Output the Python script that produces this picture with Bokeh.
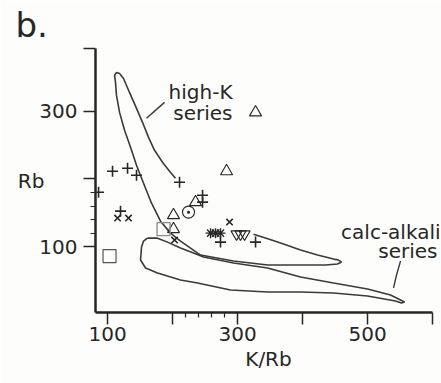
from bokeh.plotting import figure
from bokeh.models import Range1d, FixedTicker, Label
from bokeh.embed import file_html
from bokeh.resources import INLINE

# ---------------- data (K/Rb, Rb) ----------------
plus_x = [86.2, 107.7, 130.8, 144.6, 210.8, 246.2, 246.2, 273.8, 327.7, 120.0]
plus_y = [180.4, 211.4, 215.9, 205.5, 195.2, 176.0, 165.7, 106.6, 106.6, 152.4]

x_x = [115.4, 132.3, 203.1, 287.7]
x_y = [142.1, 142.1, 109.6, 136.2]

ast_x = [258.5, 266.2, 273.8]
ast_y = [119.9, 119.9, 119.9]

itri_x = [298.5, 304.6, 310.8]
itri_y = [118.4, 118.4, 118.4]

tri_x = [327.7, 283.1, 235.4, 201.5, 201.5]
tri_y = [298.5, 211.4, 165.7, 146.5, 125.8]

cdot_x = [224.6]
cdot_y = [150.9]

sq_x = [103.1]
sq_y = [86.0]
sq2_x = [186.2]
sq2_y = [125.8]

# high-K series envelope (open outline)
hk_x = [204.6, 195.4, 184.6, 172.3, 163.1, 153.8, 144.6, 133.8, 124.6, 118.5, 113.8, 110.8,
        112.3, 113.8, 118.5, 126.2, 135.4, 144.6, 155.4, 167.7, 181.5, 196.9, 212.3, 227.7,
        243.1, 293.8, 346.2, 396.9, 435.4, 453.8, 460.0, 455.4, 447.7, 423.1, 396.9, 370.8,
        347.7, 324.6]
hk_y = [201.1, 211.4, 224.7, 242.4, 261.6, 283.8, 304.4, 328.0, 348.7, 356.1, 357.6, 353.1,
        342.8, 323.6, 298.5, 272.0, 246.9, 220.3, 193.7, 164.2, 137.6, 119.9, 108.1, 97.8,
        87.5, 78.6, 72.7, 72.7, 72.7, 74.2, 77.1, 80.1, 81.5, 87.5, 94.8, 103.7,
        111.1, 118.4]

# calc-alkali series envelope (closed)
ca_x = [161.5, 176.9, 192.3, 212.3, 232.3, 247.7, 293.8, 346.2, 396.9, 447.7, 500.0, 535.4,
        550.8, 556.9, 552.3, 543.1, 500.0, 447.7, 396.9, 346.2, 289.2, 238.5, 212.3, 176.9,
        158.5, 150.8, 152.3, 155.4, 161.5]
ca_y = [112.5, 112.5, 106.6, 97.8, 90.4, 84.5, 75.6, 68.3, 55.0, 46.1, 37.3, 28.4,
        21.0, 18.1, 16.6, 19.6, 26.9, 31.4, 32.8, 32.8, 35.8, 46.1, 50.6, 60.9,
        68.3, 80.1, 99.3, 108.1, 112.5]

# label pointers
hk_ptr_x = [160.0, 187.7]
hk_ptr_y = [289.7, 313.3]
ca_ptr_x = [540.0, 544.6, 550.8]
ca_ptr_y = [38.8, 58.0, 78.7]

x_ticks = [100, 200, 300, 400, 500, 600]
x_minor = [220, 240, 260, 280]
x_tick_labels = {100: "100", 200: "", 300: "300", 400: "", 500: "500", 600: ""}
y_ticks = [100, 200, 300, 393]
y_minor = [120, 140, 160, 180]
y_tick_labels = {100: "100", 200: "", 300: "300", 393: ""}

# ---------------- figure ----------------
FONT = "DejaVu Sans"
INK = "#262626"
BG = "#fdfdfb"

p = figure(width=441, height=383, output_backend="svg", toolbar_location=None,
           x_range=Range1d(81.5, 613.8), y_range=Range1d(2.5, 393),
           min_border_left=95, min_border_right=0, min_border_top=48, min_border_bottom=71,
           background_fill_color=BG, border_fill_color=BG)
p.outline_line_color = None
p.grid.visible = False

p.title.text = "b."
p.title.text_font = FONT
p.title.text_font_size = "34px"
p.title.text_font_style = "normal"
p.title.text_color = INK
p.title.align = "left"
p.title.vertical_align = "top"
p.title.offset = -80
p.title.standoff = 4

for ax in (p.xaxis[0], p.yaxis[0]):
    ax.axis_line_width = 2.5
    ax.axis_line_color = INK
    ax.major_tick_line_color = INK
    ax.major_tick_line_width = 1.5
    ax.minor_tick_line_color = INK
    ax.minor_tick_line_width = 1.2
    ax.major_tick_out = 12
    ax.major_tick_in = 0
    ax.minor_tick_out = 5
    ax.minor_tick_in = 0
    ax.major_label_text_font = FONT
    ax.major_label_text_font_size = "20px"
    ax.major_label_text_color = INK
    ax.axis_label_text_font = FONT
    ax.axis_label_text_font_size = "20px"
    ax.axis_label_text_font_style = "normal"
    ax.axis_label_text_color = INK

p.xaxis.ticker = FixedTicker(ticks=x_ticks, minor_ticks=x_minor)
p.xaxis.major_label_overrides = x_tick_labels
p.xaxis.major_label_standoff = 2
p.xaxis.bounds = (81.5, 600)
p.xaxis.axis_label = "K/Rb"
p.xaxis.axis_label_standoff = 3

p.yaxis.ticker = FixedTicker(ticks=y_ticks, minor_ticks=y_minor)
p.yaxis.major_label_overrides = y_tick_labels
p.yaxis.major_label_standoff = 6
p.yaxis.axis_label = "Rb"
p.yaxis.axis_label_orientation = "horizontal"
p.yaxis.axis_label_standoff = -8

# envelopes
p.line(hk_x, hk_y, line_color="#3a3a3a", line_width=1.6)
p.line(ca_x, ca_y, line_color="#3a3a3a", line_width=1.6)
p.line(hk_ptr_x, hk_ptr_y, line_color="#3a3a3a", line_width=1.4)
p.line(ca_ptr_x, ca_ptr_y, line_color="#3a3a3a", line_width=1.4)

# points
p.scatter(plus_x, plus_y, marker="cross", size=11, line_color=INK, line_width=1.6)
p.scatter(x_x, x_y, marker="x", size=9, line_color=INK, line_width=1.6)
p.scatter(ast_x, ast_y, marker="asterisk", size=10, line_color=INK, line_width=1.4)
p.scatter(itri_x, itri_y, marker="inverted_triangle", size=11, line_color=INK,
          fill_color=None, line_width=1.2)
p.scatter(tri_x, tri_y, marker="triangle", size=12, line_color=INK,
          fill_color=None, line_width=1.1)
p.scatter(cdot_x, cdot_y, marker="circle_dot", size=12, line_color=INK,
          fill_color=None, line_width=1.1)
p.scatter(sq_x, sq_y, marker="square", size=13, line_color="#555555",
          fill_color=None, line_width=1.2)
p.scatter(sq2_x, sq2_y, marker="square", size=13, line_color="#8c8c8c",
          fill_color=None, line_width=1.4)

# texts
def lab(text, x, y):
    p.add_layout(Label(x=x, y=y, text=text, text_font=FONT, text_font_size="20px",
                       text_color=INK, text_align="right", text_baseline="middle"))

lab("high-K", 292.3, 328.0)
lab("series", 292.3, 297.0)
lab("calc-alkali", 612.3, 121.4)
lab("series", 607.7, 93.4)

open("out.html", "w").write(file_html(p, INLINE))
